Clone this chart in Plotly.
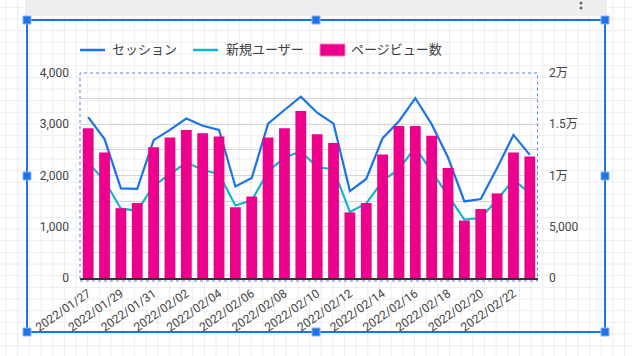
import plotly.graph_objects as go

dates = ["2022/01/27", "2022/01/28", "2022/01/29", "2022/01/30", "2022/01/31",
         "2022/02/01", "2022/02/02", "2022/02/03", "2022/02/04", "2022/02/05",
         "2022/02/06", "2022/02/07", "2022/02/08", "2022/02/09", "2022/02/10",
         "2022/02/11", "2022/02/12", "2022/02/13", "2022/02/14", "2022/02/15",
         "2022/02/16", "2022/02/17", "2022/02/18", "2022/02/19", "2022/02/20",
         "2022/02/21", "2022/02/22", "2022/02/23"]

sessions = [3140, 2710, 1750, 1740, 2690, 2890, 3110, 2970, 2890, 1786,
            1950, 3010, 3278, 3537, 3226, 3012, 1695, 1933, 2728, 3060,
            3510, 3000, 2350, 1494, 1541, 2144, 2792, 2403]

new_users = [2253, 1897, 1352, 1313, 1800, 2027, 2253, 2111, 2027, 1416,
             1514, 2078, 2350, 2467, 2165, 2118, 1288, 1456, 1893, 2128,
             2548, 2074, 1607, 1138, 1171, 1527, 1916, 1658]

page_views = [14610, 12240, 6810, 7320, 12760, 13700, 14440, 14120, 13800, 6900,
              7950, 13700, 14610, 16300, 14030, 13180, 6400, 7320, 12050, 14840,
              14840, 13890, 10720, 5600, 6730, 8250, 12240, 11850]

left_ticks = [0, 500, 1000, 1500, 2000, 2500, 3000, 3500, 4000]
left_text = ["0", "", "1,000", "", "2,000", "", "3,000", "", "4,000"]
right_ticks = [0, 5000, 10000, 15000, 20000]
right_text = ["0", "5,000", "1万", "1.5万", "2万"]
x_tick_labels = dates[::2]

legend_names = ["セッション", "新規ユーザー", "ページビュー数"]
C_SESS = "#1a73e8"
C_NEW = "#12b5cb"
C_PV = "#ec008c"
SEL = "#1a73e8"

W, H = 632, 356
L, R, T, B = 80, 94, 73, 78
PW, PH = W - L - R, H - T - B


def px(x):
    return (x - L) / PW


def py(y):
    return (H - B - y) / PH


FONT = "Roboto, 'Noto Sans CJK JP', sans-serif"

fig = go.Figure()
fig.add_trace(go.Bar(x=dates, y=page_views, name=legend_names[2], marker_color=C_PV,
                     marker_line_width=0, yaxis="y2"))
fig.add_trace(go.Scatter(x=dates, y=sessions, name=legend_names[0], mode="lines",
                         line=dict(color=C_SESS, width=2.2)))
fig.add_trace(go.Scatter(x=dates, y=new_users, name=legend_names[1], mode="lines",
                         line=dict(color=C_NEW, width=2.2)))

shapes = []
# canvas grid
step = 11.67
x = 6.0
while x < W:
    shapes.append(dict(type="line", xref="paper", yref="paper", x0=px(x), x1=px(x),
                       y0=py(0), y1=py(H), line=dict(color="#ededed", width=1), layer="below"))
    x += step
y = 7.3
while y < H:
    shapes.append(dict(type="line", xref="paper", yref="paper", x0=px(0), x1=px(W),
                       y0=py(y), y1=py(y), line=dict(color="#ededed", width=1), layer="below"))
    y += step
# grey top band
shapes.append(dict(type="rect", xref="paper", yref="paper", x0=px(25), x1=px(607),
                   y0=py(16), y1=py(0), fillcolor="#eeeeee", line=dict(width=0), layer="below"))
# dots
for dy in (-2, 3, 8):
    shapes.append(dict(type="circle", xref="paper", yref="paper", x0=px(579.5), x1=px(582.5),
                       y0=py(dy + 1.5), y1=py(dy - 1.5), fillcolor="#666666", line=dict(width=0)))
# dashed selection box around plot
shapes.append(dict(type="rect", xref="paper", yref="paper", x0=px(80), x1=px(537.5),
                   y0=py(281), y1=py(73), line=dict(color="#4a8af4", width=1, dash="dot")))
# selection border
bx0, bx1, by0, by1 = 27, 605, 20, 332
for (a, b, c, d) in [(bx0, by0, bx1, by0), (bx0, by1, bx1, by1), (bx0, by0, bx0, by1), (bx1, by0, bx1, by1)]:
    shapes.append(dict(type="line", xref="paper", yref="paper", x0=px(a), x1=px(c),
                       y0=py(b), y1=py(d), line=dict(color=SEL, width=2)))
mx, my = (bx0 + bx1) / 2, (by0 + by1) / 2
for (hx, hy) in [(bx0, by0), (mx, by0), (bx1, by0), (bx0, my), (bx1, my), (bx0, by1), (mx, by1), (bx1, by1)]:
    shapes.append(dict(type="rect", xref="paper", yref="paper", x0=px(hx - 4), x1=px(hx + 4),
                       y0=py(hy + 4), y1=py(hy - 4), fillcolor=SEL, line=dict(color="#8ab4f8", width=1)))
# manual legend
ly = 50
shapes.append(dict(type="line", xref="paper", yref="paper", x0=px(80), x1=px(105),
                   y0=py(ly), y1=py(ly), line=dict(color=C_SESS, width=2.5)))
shapes.append(dict(type="line", xref="paper", yref="paper", x0=px(193), x1=px(218),
                   y0=py(ly), y1=py(ly), line=dict(color=C_NEW, width=2.5)))
shapes.append(dict(type="rect", xref="paper", yref="paper", x0=px(320), x1=px(345),
                   y0=py(ly + 6), y1=py(ly - 6), fillcolor=C_PV, line=dict(color="#f77fc4", width=1)))

annotations = []
for name, xx in zip(legend_names, [110, 224, 349]):
    annotations.append(dict(text=name, xref="paper", yref="paper", x=px(xx), y=py(ly),
                            xanchor="left", yanchor="middle", showarrow=False,
                            font=dict(size=13, color="#3c4043", family=FONT)))

fig.update_layout(
    width=W, height=H,
    margin=dict(l=L, r=R, t=T, b=B),
    paper_bgcolor="white",
    plot_bgcolor="rgba(0,0,0,0)",
    showlegend=False,
    bargap=0.34,
    font=dict(family=FONT, color="#444444", size=12),
    shapes=shapes,
    annotations=annotations,
    xaxis=dict(type="category", tickmode="array", tickvals=x_tick_labels, ticktext=x_tick_labels,
               tickangle=-35, showgrid=False, showline=True, linecolor="#333333", linewidth=2,
               ticks="", tickfont=dict(size=12, color="#444444"), ticklabelstandoff=2),
    yaxis=dict(range=[0, 4000], tickmode="array", tickvals=left_ticks, ticktext=left_text,
               showgrid=True, gridcolor="#d6d6d6", gridwidth=1, zeroline=False,
               ticks="", tickfont=dict(size=12, color="#444444"), ticklabelstandoff=10),
    yaxis2=dict(range=[0, 20000], overlaying="y", side="right", tickmode="array",
                tickvals=right_ticks, ticktext=right_text, showgrid=False, zeroline=False,
                ticks="", tickfont=dict(size=12, color="#444444"), ticklabelstandoff=10),
)

fig.write_html("out.html", config={"displayModeBar": False},
               post_script="document.body.style.margin='0px';")
